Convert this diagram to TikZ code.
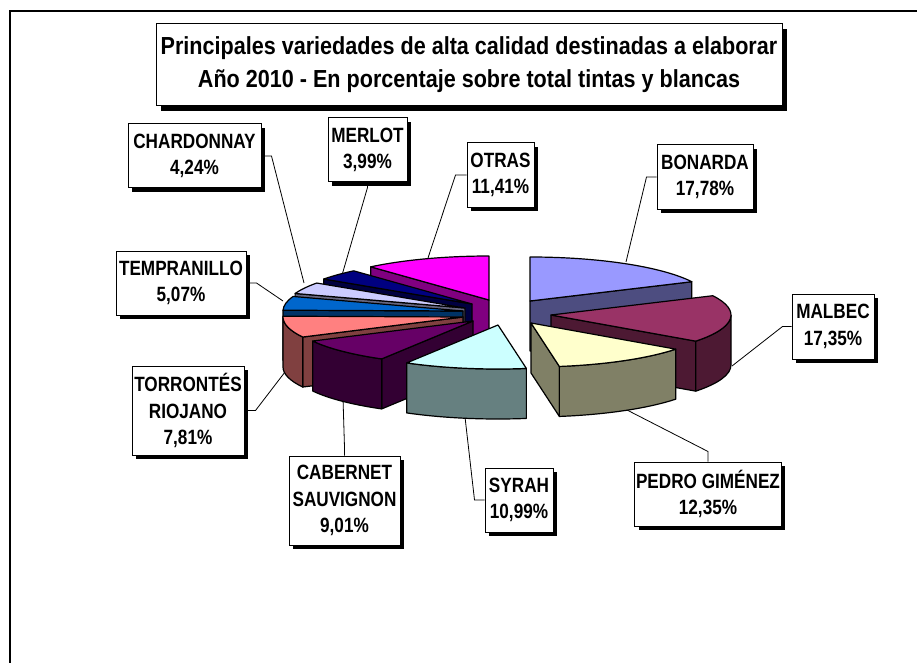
\documentclass[tikz,border=0pt]{standalone}
\usepackage{fontspec}
\usepackage{tikz}
\usetikzlibrary{calc,shadows}
\newfontfamily\etiqfont[FakeStretch=0.83]{Liberation Sans}
\newfontfamily\titfont[FakeStretch=0.875]{Liberation Sans}

\definecolor{bonardaA}{HTML}{9999FF}    \definecolor{bonardaB}{HTML}{4D4D80}
\definecolor{malbecA}{HTML}{993366}     \definecolor{malbecB}{HTML}{4D1933}
\definecolor{pedroA}{HTML}{FFFFCC}      \definecolor{pedroB}{HTML}{808066}
\definecolor{syrahA}{HTML}{CCFFFF}      \definecolor{syrahB}{HTML}{668080}
\definecolor{cabernetA}{HTML}{660066}   \definecolor{cabernetB}{HTML}{330033}
\definecolor{torrontesA}{HTML}{FF8080}  \definecolor{torrontesB}{HTML}{804040}
\definecolor{tempranilloA}{HTML}{0066CC}\definecolor{tempranilloB}{HTML}{003366}
\definecolor{chardonnayA}{HTML}{CCCCFF} \definecolor{chardonnayB}{HTML}{666680}
\definecolor{merlotA}{HTML}{000080}     \definecolor{merlotB}{HTML}{000040}
\definecolor{otrasA}{HTML}{FF00FF}      \definecolor{otrasB}{HTML}{800080}

% cara radial, lado curvo y tapa de una porcion (radios 180 y 44, alto 50)
\newcommand{\cara}[3]{\filldraw[trozo, fill=#3] (#1) -- ($(#1)+(#2:180 and 44)$) -- ++(0,50) -- ($(#1)+(0,50)$) -- cycle}
\newcommand{\lado}[4]{\filldraw[trozo, fill=#4] ($(#1)+(#2:180 and 44)$) arc[start angle=#2, end angle=#3, x radius=180, y radius=44] -- ++(0,50) arc[start angle=#3, end angle=#2, x radius=180, y radius=44] -- cycle}
\newcommand{\tapa}[4]{\filldraw[trozo, fill=#4] (#1) -- ($(#1)+(#2:180 and 44)$) arc[start angle=#2, end angle=#3, x radius=180, y radius=44] -- cycle}

\tikzset{
  rotulo/.style={draw, fill=white, line width=0.75pt, align=center, inner sep=1pt,
    font=\etiqfont\bfseries\fontsize{15.5}{20}\selectfont,
    drop shadow={shadow xshift=3pt, shadow yshift=-3pt, fill=black, opacity=1}},
  titulo/.style={draw, fill=white, line width=0.75pt, align=center, inner sep=1pt,
    font=\titfont\bfseries\fontsize{18.5}{24.75}\selectfont,
    drop shadow={shadow xshift=3.5pt, shadow yshift=-3.5pt, fill=black, opacity=1}},
  guia/.style={line width=0.6pt},
  trozo/.style={line width=0.9pt, line join=round}
}

\begin{document}
\begin{tikzpicture}[x=0.75pt, y=-0.75pt]
  \fill[white] (0,0) rectangle (917,663);
  \useasboundingbox (0,0) rectangle (917,663);
  \draw[line width=1.5pt] (10,663) -- (10,11) -- (917,11);

  \node[titulo, minimum width=469.5pt, minimum height=61.5pt] (titulo) at (469,65)
    {Principales variedades de alta calidad destinadas a elaborar\\Año 2010 - En porcentaje sobre total tintas y blancas};

  % rotulos
  \node[rotulo, minimum width=99.75pt, minimum height=48pt] (lChardonnay) at (194.5,156) {CHARDONNAY\\4,24\%};
  \node[rotulo, minimum width=59.25pt, minimum height=48pt] (lMerlot) at (367.5,150) {MERLOT\\3,99\%};
  \node[rotulo, minimum width=50.25pt, minimum height=48pt] (lOtras) at (500.5,175) {OTRAS\\11,41\%};
  \node[rotulo, minimum width=72pt, minimum height=48pt] (lBonarda) at (705,177) {BONARDA\\17,78\%};
  \node[rotulo, minimum width=61.5pt, minimum height=48.75pt] (lMalbec) at (833,326.5) {MALBEC\\17,35\%};
  \node[rotulo, minimum width=97.5pt, minimum height=48pt] (lTempranillo) at (181,283) {TEMPRANILLO\\5,07\%};
  \node[rotulo, minimum width=84pt, minimum height=66.75pt] (lTorrontes) at (188,410.5) {TORRONTÉS\\RIOJANO\\7,81\%};
  \node[rotulo, minimum width=83.25pt, minimum height=66.75pt] (lCabernet) at (344.5,500.5) {CABERNET\\SAUVIGNON\\9,01\%};
  \node[rotulo, minimum width=51pt, minimum height=48pt] (lSyrah) at (519,500) {SYRAH\\10,99\%};
  \node[rotulo, minimum width=109.5pt, minimum height=48pt] (lPedro) at (708,494) {PEDRO GIMÉNEZ\\12,35\%};

  % guias
  \draw[guia] (lChardonnay.east) -- ++(10,0) -- (304,283);
  \draw[guia] (lMerlot.south) -- ++(0,5) -- (340,282);
  \draw[guia] (lOtras.west) -- ++(-11,0) -- (428,258);
  \draw[guia] (lBonarda.west) -- ++(-10,0) -- (626,262);
  \draw[guia] (lMalbec.west) -- ++(-9,0) -- (732,366);
  \draw[guia] (lTempranillo.east) -- ++(10,0) -- (283,301);
  \draw[guia] (lTorrontes.east) -- ++(11,0) -- (285,372);
  \draw[guia] (lCabernet.north) -- ++(0,-8) -- (343,398);
  \draw[guia] (lSyrah.west) -- ++(-10,0) -- (465,417);
  \draw[guia] (lPedro.north) -- ++(0,-10) -- (627,410);

  % vertices de las porciones
  \coordinate (bonarda) at (530,301);
  \coordinate (malbec) at (551,315);
  \coordinate (pedro) at (531,323);
  \coordinate (syrah) at (498,325);
  \coordinate (cabernet) at (473,321);
  \coordinate (torrontes) at (463,317);
  \coordinate (tempranillo) at (463,311);
  \coordinate (chardonnay) at (465,308);
  \coordinate (merlot) at (472,304);
  \coordinate (otras) at (489,300);

  % de atras hacia adelante
  \cara{otras}{228.92}{otrasB};
  \tapa{otras}{228.92}{270}{otrasA};
  \cara{merlot}{214.56}{merlotB};
  \tapa{merlot}{214.56}{228.92}{merlotA};
  \cara{chardonnay}{199.30}{chardonnayB};
  \tapa{chardonnay}{199.30}{214.56}{chardonnayA};
  \cara{tempranillo}{181.05}{tempranilloB};
  \tapa{tempranillo}{181.05}{199.30}{tempranilloA};
  \cara{torrontes}{152.93}{torrontesB};
  \lado{torrontes}{152.93}{180}{torrontesB};
  \tapa{torrontes}{152.93}{181.05}{torrontesA};
  \cara{cabernet}{120.49}{cabernetB};
  \lado{cabernet}{120.49}{152.93}{cabernetB};
  \tapa{cabernet}{120.49}{152.93}{cabernetA};
  \cara{bonarda}{-25.99}{bonardaB};
  \tapa{bonarda}{-90}{-25.99}{bonardaA};
  \cara{malbec}{36.47}{malbecB};
  \lado{malbec}{0}{36.47}{malbecB};
  \tapa{malbec}{-25.99}{36.47}{malbecA};
  \cara{pedro}{80.93}{pedroB};
  \lado{pedro}{36.47}{80.93}{pedroB};
  \tapa{pedro}{36.47}{80.93}{pedroA};
  \lado{syrah}{80.93}{120.49}{syrahB};
  \tapa{syrah}{80.93}{120.49}{syrahA};
\end{tikzpicture}
\end{document}
